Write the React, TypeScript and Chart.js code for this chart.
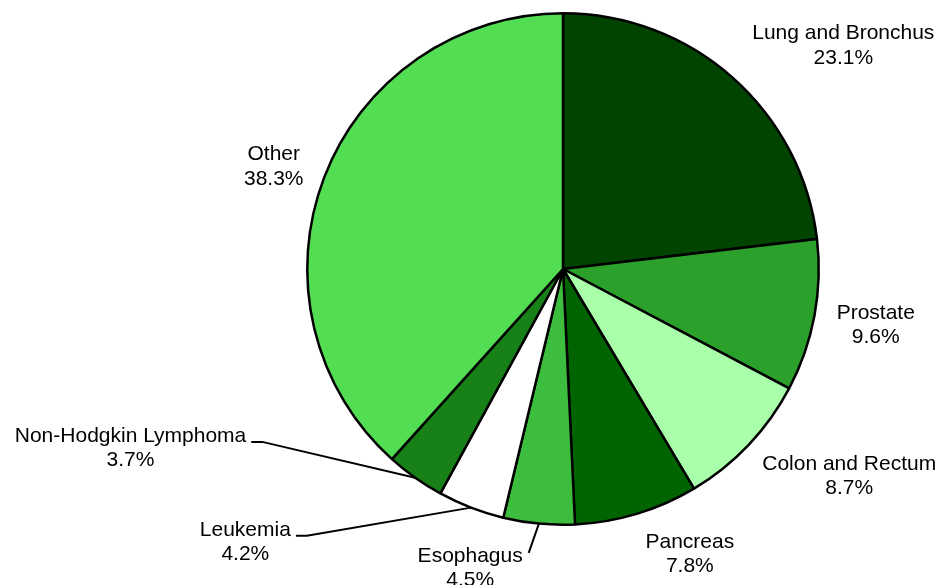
import React, { useEffect, useRef } from "react";
import { Chart, registerables } from "chart.js";

Chart.register(...registerables);

// ---- data ----
const categories = [
  "Lung and Bronchus",
  "Prostate",
  "Colon and Rectum",
  "Pancreas",
  "Esophagus",
  "Leukemia",
  "Non-Hodgkin Lymphoma",
  "Other",
];
const percentages = [23.1, 9.6, 8.7, 7.8, 4.5, 4.2, 3.7, 38.3];
const percentLabels = ["23.1%", "9.6%", "8.7%", "7.8%", "4.5%", "4.2%", "3.7%", "38.3%"];

// ---- styles / layout (kept apart from the data) ----
const sliceColors = [
  "#004400",
  "#2ba02b",
  "#aaffaa",
  "#006400",
  "#3dbd3d",
  "#ffffff",
  "#178017",
  "#53dd53",
];
// label anchor (centre x, first baseline) relative to pie centre, in units of radius
const labelOffsetX = [1.096, 1.223, 1.119, 0.496, -0.363, -1.242, -1.691, -1.131];
const labelOffsetY = [-0.898, 0.195, 0.785, 1.09, 1.145, 1.043, 0.676, -0.426];
// leader line kind: none | elbow | straight
const leaderKind = ["none", "none", "none", "none", "straight", "elbow", "elbow", "none"];

const FONT = '21px "Liberation Sans", Arial, sans-serif';
const LINE_GAP = 24.5;

const labelPlugin = {
  id: "pieLabels",
  afterDatasetsDraw(chart: any) {
    const ctx: CanvasRenderingContext2D = chart.ctx;
    const meta = chart.getDatasetMeta(0);
    ctx.save();
    ctx.font = FONT;
    ctx.fillStyle = "#000";
    ctx.textAlign = "center";
    ctx.textBaseline = "alphabetic";
    meta.data.forEach((arc: any, i: number) => {
      const { x, y, startAngle, endAngle, outerRadius } = arc.getProps(
        ["x", "y", "startAngle", "endAngle", "outerRadius"],
        true
      );
      const r = outerRadius;
      const lx = x + labelOffsetX[i] * r;
      const ly = y + labelOffsetY[i] * r;
      ctx.fillText(categories[i], lx, ly);
      ctx.fillText(percentLabels[i], lx, ly + LINE_GAP);

      const mid = (startAngle + endAngle) / 2;
      const px = x + Math.cos(mid) * r;
      const py = y + Math.sin(mid) * r;
      const w = ctx.measureText(categories[i]).width;
      const right = lx + w / 2;
      if (leaderKind[i] === "elbow") {
        ctx.beginPath();
        ctx.lineWidth = 2;
        ctx.strokeStyle = "#000";
        ctx.moveTo(right + 5, ly);
        ctx.lineTo(right + 16, ly);
        ctx.lineTo(px, py);
        ctx.stroke();
      } else if (leaderKind[i] === "straight") {
        ctx.beginPath();
        ctx.lineWidth = 2;
        ctx.strokeStyle = "#000";
        ctx.moveTo(right + 6, ly - 9);
        ctx.lineTo(px, py);
        ctx.stroke();
      }
    });
    ctx.restore();
  },
};

export default function App() {
  const ref = useRef<HTMLCanvasElement | null>(null);
  useEffect(() => {
    if (!ref.current) return;
    const chart = new Chart(ref.current, {
      type: "pie",
      data: {
        labels: categories,
        datasets: [
          {
            data: percentages,
            backgroundColor: sliceColors,
            borderColor: "#000",
            borderWidth: 2.5,
            hoverBorderWidth: 2.5,
            hoverOffset: 0,
          },
        ],
      },
      options: {
        responsive: false,
        animation: false,
        events: [],
        layout: { padding: { left: 250, right: 65, top: 12, bottom: 59 } },
        plugins: {
          legend: { display: false },
          tooltip: { enabled: false },
        },
      },
      plugins: [labelPlugin],
    });
    return () => chart.destroy();
  }, []);
  return (
    <div style={{ position: "fixed", left: 0, top: 0, width: 941, height: 585, background: "#fff" }}>
      <canvas ref={ref} width={941} height={585} style={{ display: "block" }} />
    </div>
  );
}
